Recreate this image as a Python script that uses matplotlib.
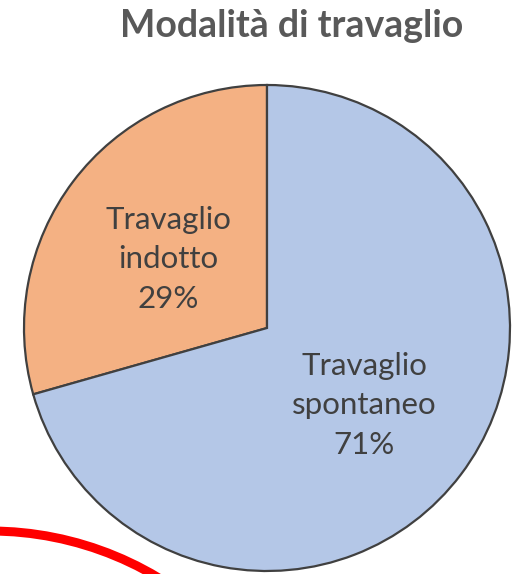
import matplotlib.pyplot as plt
from matplotlib.patches import Circle

labels = ['Travaglio\nindotto', 'Travaglio\nspontaneo']
values = [29.4, 70.6]
pct_labels = ['29%', '71%']
colors = ['#F4B183', '#B4C7E7']
title = 'Modalità di travaglio'

W, H = 514, 574
fig = plt.figure(figsize=(W / 100, H / 100), dpi=100)
ax = fig.add_axes([0, 0, 1, 1])

# pie in pixel coordinates (y up)
wedges, _ = ax.pie(values, colors=colors, startangle=90, counterclock=True,
                   center=(267, H - 328), radius=243, frame=True,
                   wedgeprops=dict(edgecolor='#404040', linewidth=1.6))

pos = [(168, H - 259), (364, H - 405)]
for lab, p, (x, y) in zip(labels, pct_labels, pos):
    ax.text(x, y, f'{lab}\n{p}', ha='center', va='center', fontsize=22.5,
            color='#404040', linespacing=1.5, family=['Lato', 'DejaVu Sans'])

ax.text(292, H - 26, title, ha='center', va='center', fontsize=27,
        fontweight='bold', color='#595959', family=['Lato', 'DejaVu Sans'])

# red annotation circle partly visible bottom-left
ax.add_patch(Circle((-10, H - 858), 327, fill=False, edgecolor='red', linewidth=6.5))

ax.set_xlim(0, W)
ax.set_ylim(0, H)
ax.set_aspect('equal')
ax.axis('off')

fig.savefig('out.png', dpi=100)
